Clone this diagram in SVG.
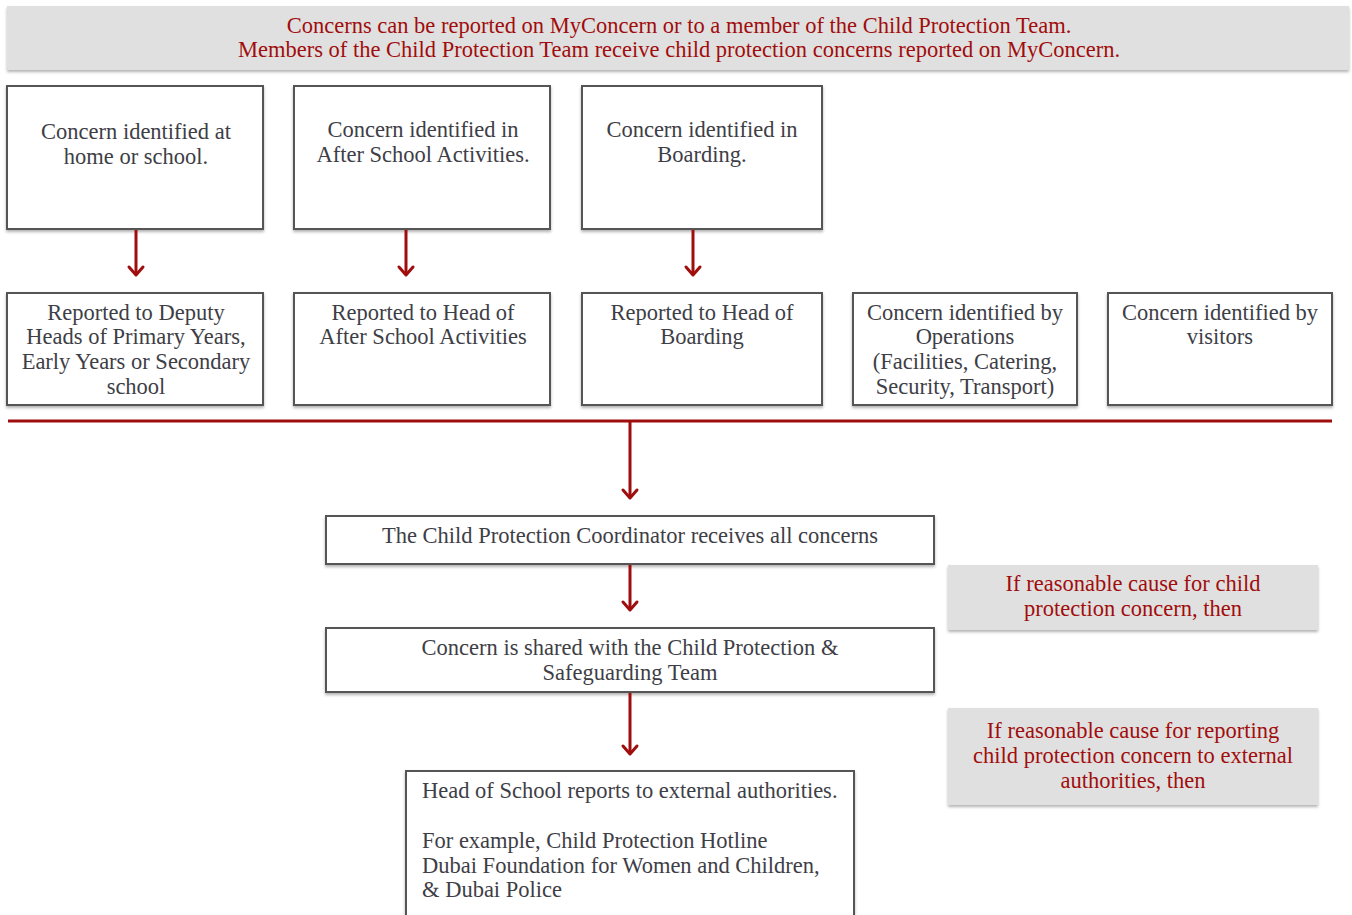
<svg xmlns="http://www.w3.org/2000/svg" width="1352" height="915" viewBox="0 0 1352 915">
<defs>
<filter id="sh" x="-5%" y="-5%" width="110%" height="120%">
<feDropShadow dx="0" dy="2" stdDeviation="1.5" flood-color="#000" flood-opacity="0.3"/>
</filter>
</defs>
<style>
.box{fill:#fff;stroke:#555;stroke-width:2;filter:url(#sh)}
.grey{fill:#e0e0e0;stroke:none;filter:url(#sh)}
.t{font-family:"Liberation Serif","DejaVu Serif",serif;font-size:22.5px;fill:#3e3e46;text-anchor:middle}
.tl{font-family:"Liberation Serif","DejaVu Serif",serif;font-size:22.5px;fill:#3e3e46}
.r{font-family:"Liberation Serif","DejaVu Serif",serif;font-size:22.5px;fill:#a00d0d;text-anchor:middle}
.c{stroke:#a00d0d;stroke-width:3;fill:none}
.ar{fill:none;stroke:#a00d0d;stroke-width:3;stroke-linecap:round;stroke-linejoin:round}
</style>
<rect width="1352" height="915" fill="#fff"/>
<g id="banner">
<rect class="grey" x="7" y="6" width="1342" height="64"/>
<text class="r" x="679" y="33">Concerns can be reported on MyConcern or to a member of the Child Protection Team.</text>
<text class="r" x="679" y="57">Members of the Child Protection Team receive child protection concerns reported on MyConcern.</text>
</g>
<g id="n1">
<rect class="box" x="7" y="86" width="256" height="143"/>
<text class="t" x="136" y="139">Concern identified at</text>
<text class="t" x="136" y="164">home or school.</text>
</g>
<g id="n2">
<rect class="box" x="294" y="86" width="256" height="143"/>
<text class="t" x="423" y="137">Concern identified in</text>
<text class="t" x="423" y="162">After School Activities.</text>
</g>
<g id="n3">
<rect class="box" x="582" y="86" width="240" height="143"/>
<text class="t" x="702" y="137">Concern identified in</text>
<text class="t" x="702" y="162">Boarding.</text>
</g>
<g id="n4">
<rect class="box" x="7" y="293" width="256" height="112"/>
<text class="t" x="136" y="320">Reported to Deputy</text>
<text class="t" x="136" y="344">Heads of Primary Years,</text>
<text class="t" x="136" y="369">Early Years or Secondary</text>
<text class="t" x="136" y="394">school</text>
</g>
<g id="n5">
<rect class="box" x="294" y="293" width="256" height="112"/>
<text class="t" x="423" y="320">Reported to Head of</text>
<text class="t" x="423" y="344">After School Activities</text>
</g>
<g id="n6">
<rect class="box" x="582" y="293" width="240" height="112"/>
<text class="t" x="702" y="320">Reported to Head of</text>
<text class="t" x="702" y="344">Boarding</text>
</g>
<g id="n7">
<rect class="box" x="853" y="293" width="224" height="112"/>
<text class="t" x="965" y="320">Concern identified by</text>
<text class="t" x="965" y="344">Operations</text>
<text class="t" x="965" y="369">(Facilities, Catering,</text>
<text class="t" x="965" y="394">Security, Transport)</text>
</g>
<g id="n8">
<rect class="box" x="1108" y="293" width="224" height="112"/>
<text class="t" x="1220" y="320">Concern identified by</text>
<text class="t" x="1220" y="344">visitors</text>
</g>
<g id="n9">
<rect class="box" x="326" y="516" width="608" height="48"/>
<text class="t" x="630" y="543">The Child Protection Coordinator receives all concerns</text>
</g>
<g id="n10">
<rect class="box" x="326" y="628" width="608" height="64"/>
<text class="t" x="630" y="655">Concern is shared with the Child Protection &amp;</text>
<text class="t" x="630" y="680">Safeguarding Team</text>
</g>
<g id="n11">
<rect class="box" x="406" y="771" width="448" height="150"/>
<text class="tl" x="422" y="798">Head of School reports to external authorities.</text>
<text class="tl" x="422" y="848">For example, Child Protection Hotline</text>
<text class="tl" x="422" y="873">Dubai Foundation for Women and Children,</text>
<text class="tl" x="422" y="897">&amp; Dubai Police</text>
</g>
<g id="g1">
<rect class="grey" x="948" y="565" width="370" height="65"/>
<text class="r" x="1133" y="591">If reasonable cause for child</text>
<text class="r" x="1133" y="616">protection concern, then</text>
</g>
<g id="g2">
<rect class="grey" x="948" y="708" width="370" height="97"/>
<text class="r" x="1133" y="738">If reasonable cause for reporting</text>
<text class="r" x="1133" y="763">child protection concern to external</text>
<text class="r" x="1133" y="788">authorities, then</text>
</g>
<g id="connectors">
<line class="c" x1="136" y1="230" x2="136" y2="275"/>
<path class="ar" d="M129,267 L136,275 L143,267"/>
<line class="c" x1="406" y1="230" x2="406" y2="275"/>
<path class="ar" d="M399,267 L406,275 L413,267"/>
<line class="c" x1="693" y1="230" x2="693" y2="275"/>
<path class="ar" d="M686,267 L693,275 L700,267"/>
<line class="c" x1="8" y1="421" x2="1332" y2="421"/>
<line class="c" x1="630" y1="421" x2="630" y2="498"/>
<path class="ar" d="M623,490 L630,498 L637,490"/>
<line class="c" x1="630" y1="565" x2="630" y2="610"/>
<path class="ar" d="M623,602 L630,610 L637,602"/>
<line class="c" x1="630" y1="693" x2="630" y2="754"/>
<path class="ar" d="M623,746 L630,754 L637,746"/>
</g>
</svg>
